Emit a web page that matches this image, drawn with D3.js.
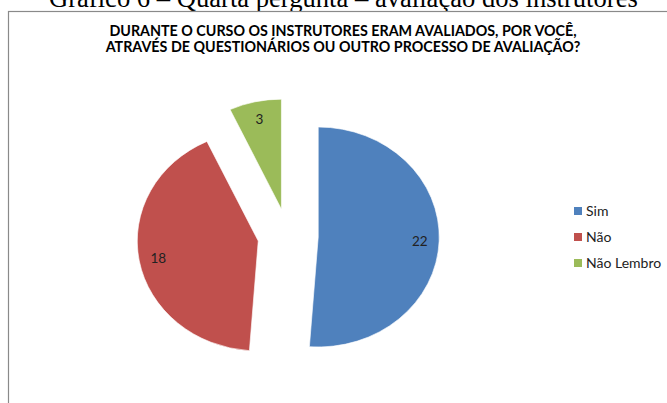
<!DOCTYPE html>
<html>
<head>
<meta charset="utf-8">
<script src="https://cdn.jsdelivr.net/npm/d3@7"></script>
<style>
    html, body { margin: 0; padding: 0; background: #fff; }
    svg { display: block; }
</style>
</head>
<body>
<svg id="globalSVG" width="667" height="403"></svg>
<script>
// data
var categories = ["Sim", "Não", "Não Lembro"];
var answerCounts = [22, 18, 3];
var captionText = "Gráfico 6 – Quarta pergunta – avaliação dos instrutores";
var titleLines = ["DURANTE O CURSO OS INSTRUTORES ERAM AVALIADOS, POR VOCÊ,",
                  "ATRAVÉS DE QUESTIONÁRIOS OU OUTRO PROCESSO DE AVALIAÇÃO?"];

var sliceColors = d3.scaleOrdinal().domain(categories).range(["#4F81BD", "#C0504D", "#9BBB59"]);

var svgContainer = d3.select("#globalSVG");

// caption of the document, cut by the top of the page
svgContainer.append("text")
    .attr("x", 49)
    .attr("y", 6.5)
    .attr("font-family", "'Liberation Serif', 'Times New Roman', serif")
    .attr("font-size", 26.6)
    .attr("fill", "#000")
    .text(captionText);

// chart area
svgContainer.append("rect")
    .attr("x", 8.5)
    .attr("y", 11.5)
    .attr("width", 700)
    .attr("height", 420)
    .attr("fill", "#fff")
    .attr("stroke", "#8a8a8a")
    .attr("stroke-width", 1.2);

svgContainer.append("g")
    .selectAll("text")
    .data(titleLines)
    .enter()
    .append("text")
    .attr("x", 343)
    .attr("y", function (d, i) { return 36 + i * 15.5; })
    .attr("text-anchor", "middle")
    .attr("font-family", "Lato, 'Open Sans', sans-serif")
    .attr("font-weight", "bold")
    .attr("font-size", 14.3)
    .attr("fill", "#000")
    .text(function (d) { return d; });

// pie: every slice exploded by a quarter of the radius, stretched a little in x
var radius = 110;
var stretchX = 1.1;
var explodeRatio = 0.25;
var pieCenter = { x: 288, y: 236 };

var pie = d3.pie().sort(null).value(function (d) { return d.value; });
var arcs = pie(categories.map(function (c, i) { return { name: c, value: answerCounts[i] }; }));
var arc = d3.arc().innerRadius(0).outerRadius(radius);

var offsetOf = function (d, r) {
    var a = (d.startAngle + d.endAngle) / 2;
    return { x: Math.sin(a) * r, y: -Math.cos(a) * r };
};

var pieGroup = svgContainer.append("g")
    .attr("transform", "translate(" + pieCenter.x + "," + pieCenter.y + ") scale(" + stretchX + ",1)");

pieGroup.selectAll("path")
    .data(arcs)
    .enter()
    .append("path")
    .attr("d", arc)
    .attr("transform", function (d) {
        var o = offsetOf(d, radius * explodeRatio);
        return "translate(" + o.x + "," + o.y + ")";
    })
    .attr("fill", function (d) { return sliceColors(d.data.name); })
    .attr("stroke", "#fff")
    .attr("stroke-width", 0.6);

// value labels near the outer end of each slice
svgContainer.append("g")
    .selectAll("text")
    .data(arcs)
    .enter()
    .append("text")
    .attr("x", function (d) {
        var o = offsetOf(d, radius * (explodeRatio + 0.84));
        return pieCenter.x + o.x * stretchX;
    })
    .attr("y", function (d) {
        var o = offsetOf(d, radius * (explodeRatio + 0.84));
        return pieCenter.y + o.y;
    })
    .attr("dy", "0.4em")
    .attr("text-anchor", "middle")
    .attr("font-family", "Lato, 'Open Sans', sans-serif")
    .attr("font-size", 13.5)
    .attr("fill", "#222")
    .text(function (d) { return d.data.value; });

// legend
var legendItem = svgContainer.append("g")
    .selectAll("g")
    .data(categories)
    .enter()
    .append("g")
    .attr("transform", function (d, i) { return "translate(574," + (211 + i * 26) + ")"; });

legendItem.append("rect")
    .attr("x", 0)
    .attr("y", -4)
    .attr("width", 8)
    .attr("height", 8)
    .attr("fill", function (d) { return sliceColors(d); });

legendItem.append("text")
    .attr("x", 12)
    .attr("y", 0)
    .attr("dy", "0.35em")
    .attr("font-family", "Lato, 'Open Sans', sans-serif")
    .attr("font-size", 14)
    .attr("fill", "#222")
    .text(function (d) { return d; });
</script>
</body>
</html>
